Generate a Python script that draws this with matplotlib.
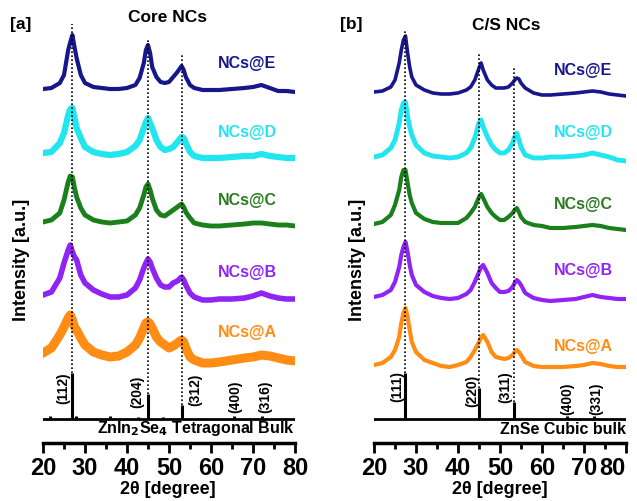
import matplotlib
matplotlib.use("Agg")
import matplotlib.pyplot as plt  # noqa: E402
from matplotlib.ticker import MultipleLocator  # noqa: E402

plt.rcParams["font.family"] = ["Liberation Sans", "DejaVu Sans"]
plt.rcParams["font.weight"] = "bold"

# ---------------------------------------------------------------------------
# Data (intensities in a.u. above each trace's baseline)
# ---------------------------------------------------------------------------
samples = ["NCs@E", "NCs@D", "NCs@C", "NCs@B", "NCs@A"]

theta_core = [20, 22, 24, 25, 26, 26.5, 27, 27.5, 28, 29, 30, 32, 34, 36, 38, 40,
              42, 43, 44, 44.5, 45, 45.5, 46, 47, 48, 49, 50, 51, 52, 53, 53.5, 54,
              55, 56, 58, 60, 62, 65, 68, 70, 72, 74, 76, 78, 80]

core_E = [3, 4, 9, 17, 42, 50, 57, 45, 34, 17, 9, 5, 4, 3, 3, 4,
          7, 14, 29, 42, 47, 39, 25, 15, 10, 9, 10, 15, 20, 26, 22, 15,
          7, 4, 2, 2, 2, 3, 4, 5, 7, 4, 1, 1, 0]
core_D = [5, 6, 15, 25, 43, 49, 50, 40, 30, 20, 11, 6, 4, 3, 4, 6,
          12, 18, 30, 36, 40, 35, 30, 18, 11, 8, 9, 11, 16, 21, 20, 15,
          6, 2, 0, 0, 0, 1, 2, 2, 4, 2, 1, 0, 0]
core_C = [4, 6, 13, 26, 44, 50, 49, 38, 29, 18, 11, 6, 4, 3, 4, 5,
          11, 18, 31, 39, 42, 36, 28, 16, 11, 10, 13, 16, 19, 22, 19, 14,
          8, 3, 1, 0, 0, 1, 2, 3, 3, 2, 1, 1, 0]
core_B = [5, 8, 22, 37, 50, 55, 48, 43, 40, 25, 17, 10, 6, 3, 3, 5,
          12, 20, 32, 37, 41, 38, 32, 22, 15, 13, 13, 17, 19, 23, 20, 15,
          7, 3, 0, 0, 1, 1, 2, 4, 7, 4, 2, 1, 1]
core_A = [10, 15, 28, 36, 45, 48, 43, 36, 33, 25, 18, 11, 8, 6, 7, 11,
          18, 25, 35, 40, 41, 39, 35, 26, 21, 18, 15, 17, 20, 23, 21, 15,
          6, 3, 0, 0, 1, 3, 5, 6, 8, 7, 5, 3, 2]

theta_cs = [20, 22, 24, 25, 26, 26.5, 27, 27.5, 28, 28.5, 29, 30, 32, 34, 36, 38,
            40, 42, 43, 44, 45, 45.5, 46, 47, 48, 49, 50, 51, 52, 53, 53.5, 54,
            54.5, 55, 56, 58, 60, 62, 65, 68, 70, 72, 74, 76, 78, 80]

cs_E = [4, 5, 9, 16, 33, 46, 56, 60, 43, 29, 19, 11, 6, 3, 2, 2,
        3, 6, 9, 16, 28, 33, 26, 16, 11, 8, 8, 8, 9, 13, 16, 18,
        17, 13, 8, 3, 1, 1, 2, 3, 4, 5, 4, 2, 1, 0]
cs_D = [4, 6, 13, 21, 38, 51, 58, 59, 44, 34, 26, 16, 8, 5, 4, 3,
        4, 8, 13, 23, 38, 41, 34, 24, 16, 11, 8, 8, 11, 18, 24, 28,
        21, 14, 6, 3, 3, 4, 4, 5, 6, 8, 6, 4, 1, 0]
cs_C = [6, 8, 15, 25, 40, 53, 60, 60, 47, 35, 27, 17, 11, 8, 7, 7,
        7, 12, 17, 23, 33, 36, 32, 23, 17, 13, 10, 10, 13, 17, 20, 22,
        18, 13, 8, 5, 4, 2, 2, 3, 4, 5, 4, 2, 1, 0]
cs_B = [4, 6, 11, 19, 34, 46, 54, 59, 49, 36, 26, 16, 9, 5, 3, 2,
        3, 7, 11, 19, 29, 34, 36, 28, 18, 13, 9, 9, 10, 14, 18, 21,
        19, 16, 8, 3, 1, 0, 1, 2, 4, 6, 4, 3, 2, 2]
cs_A = [2, 4, 10, 17, 30, 44, 54, 59, 50, 37, 25, 15, 7, 4, 1, 0,
        2, 5, 10, 17, 25, 30, 32, 25, 15, 10, 9, 8, 9, 12, 15, 17,
        15, 12, 5, 1, 0, 0, 0, 1, 2, 4, 3, 1, 0, 0]

# reference stick patterns
ref_core_pos = [21.6, 27.0, 27.9, 36.0, 42.7, 45.0, 48.6, 53.1, 65.4, 72.1]
ref_core_int = [3, 46, 3, 3, 2, 25, 2, 14, 3, 3]
ref_core_hkl = ["(112)", "(204)", "(312)", "(400)", "(316)"]
ref_core_main = [27.0, 45.0, 53.1]

ref_cs_pos = [27.4, 45.0, 53.3, 66.0, 72.4]
ref_cs_int = [46, 31, 17, 3, 3]
ref_cs_hkl = ["(111)", "(220)", "(311)", "(400)", "(331)"]
ref_cs_main = [27.4, 45.0, 53.3]

tick_vals = [20, 30, 40, 50, 60, 70, 80]

colors = ["#17178c", "#22e6ef", "#1b7f1b", "#8f24f5", "#ff8c14"]
label_colors = ["#17178c", "#22e6ef", "#2a7a1e", "#8f24f5", "#ff8c14"]


def draw_panel(ax, theta, curves, offsets, lws, label_x, label_y,
               ref_pos, ref_int, ref_main, dot_top, hkl, hkl_xy, ref_name, name_y):
    base = 24
    for y, off, c, lw in zip(curves, offsets, colors, lws):
        ax.plot(theta, [v + off for v in y], color=c, lw=lw, solid_joinstyle="round")
    for s, ly, c in zip(samples, label_y, label_colors):
        ax.text(label_x, ly, s, color=c, fontsize=11.5, ha="center", va="center")

    # reference pattern
    ax.plot([20, 80], [base, base], color="black", lw=2)
    ax.vlines(ref_pos, base, [base + v for v in ref_int], color="black", lw=2.2)
    for x, top in zip(ref_main, dot_top):
        h = ref_int[ref_pos.index(x)]
        ax.plot([x, x], [base + h, top], color="black", lw=1.2, linestyle=(0, (1, 1.4)))
    for t, (x, y) in zip(hkl, hkl_xy):
        ax.text(x, y, t, rotation=90, fontsize=10, ha="center", va="center")
    ax.text(80, name_y, ref_name, fontsize=11.5, ha="right", va="center")

    ax.set_xlim(20, 80)
    ax.set_ylim(0, 443)
    for side in ("top", "left", "right"):
        ax.spines[side].set_visible(False)
    ax.spines["bottom"].set_linewidth(2.5)
    ax.set_yticks([])
    ax.set_xticks(tick_vals, labels=[str(v) for v in tick_vals])
    ax.xaxis.set_minor_locator(MultipleLocator(5))
    ax.tick_params(axis="x", which="major", labelsize=17, width=2, length=7, pad=3)
    ax.tick_params(axis="x", which="minor", width=2, length=4)
    ax.patch.set_alpha(0)


fig = plt.figure(figsize=(6.37, 5.01), dpi=100)
ax1 = fig.add_axes([43 / 637, 58 / 501, 252 / 637, 443 / 501])
ax2 = fig.add_axes([374 / 637, 58 / 501, 252 / 637, 443 / 501])

draw_panel(ax1, theta_core, [core_E, core_D, core_C, core_B, core_A],
           [351, 285, 217, 143, 80], [3, 4.5, 3.5, 4, 6.5],
           68.6, [380, 311, 243, 170, 111],
           ref_core_pos, ref_core_int, ref_core_main, [419, 405, 388],
           ref_core_hkl, [(24.8, 55), (42.4, 51), (56.2, 53), (65.7, 46), (72.9, 46)],
           r"ZnIn$_\mathbf{2}$Se$_\mathbf{4}$ Tetragonal Bulk", 15)

draw_panel(ax2, theta_cs, [cs_E, cs_D, cs_C, cs_B, cs_A],
           [347, 282, 213, 142, 76], [2.6, 3.5, 3, 3, 3],
           69.8, [373, 311, 238, 173, 96],
           ref_cs_pos, ref_cs_int, ref_cs_main, [413, 390, 376],
           ref_cs_hkl, [(25.5, 56), (43.3, 52), (51.2, 56), (66.0, 44), (72.9, 44)],
           "ZnSe Cubic bulk", 13)

# the last label of the right panel sits inside the picture edge
ax2.get_xticklabels()[-1].set_horizontalalignment("right")

fig.text(168 / 637, 1 - 18 / 501, "Core NCs", fontsize=12.5, ha="center", va="center")
fig.text(21 / 637, 1 - 25 / 501, "[a]", fontsize=12.5, ha="center", va="center")
fig.text(351 / 637, 1 - 24 / 501, "[b]", fontsize=12.5, ha="center", va="center")
fig.text(506 / 637, 1 - 25 / 501, "C/S NCs", fontsize=12.5, ha="center", va="center")

for x in (22, 357):
    fig.text(x / 637, 1 - 260 / 501, "Intensity [a.u.]", rotation=90, fontsize=13,
             ha="center", va="center")
for x in (168, 500):
    fig.text(x / 637, 1 - 490 / 501, "2\u03b8 [degree]", fontsize=13,
             ha="center", va="center")

fig.savefig("out.png", dpi=100)
